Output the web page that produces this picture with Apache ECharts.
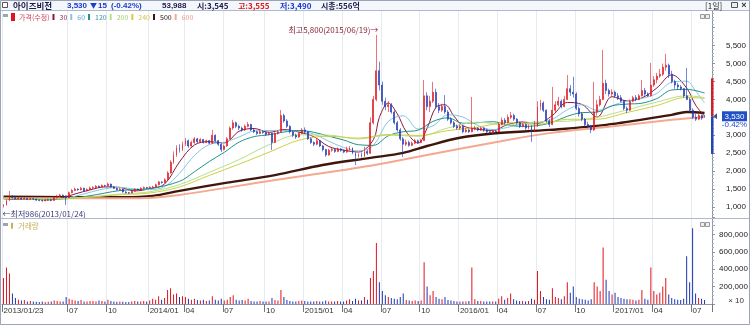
<!DOCTYPE html>
<html><head><meta charset="utf-8">
<script src="https://cdn.jsdelivr.net/npm/echarts/dist/echarts.min.js"></script>
<style>html,body{margin:0;padding:0;background:#fff}#c{width:750px;height:325px}</style>
</head><body><div id="c"></div>
<script>
// ---- data (weekly) ----
const START_DATE = [2013, 0, 23];
const PAD_WEEKS = 2;
// [open, close, low, high]
const candles = [
[1020,1050,986,1080],[1050,1180,1040,1200],[1180,1300,1170,1446],[1300,1260,1240,1330],[1260,1230,1210,1280],[1230,1250,1220,1290],[1250,1220,1200,1260],[1220,1240,1210,1270],[1240,1210,1190,1250],[1210,1230,1200,1260],
[1230,1220,1190,1250],[1220,1190,1170,1230],[1190,1180,1160,1210],[1180,1170,1150,1200],[1170,1190,1160,1220],[1190,1200,1170,1230],[1200,1180,1160,1220],[1180,1260,1170,1290],[1260,1300,1240,1340],[1300,1330,1280,1370],
[1330,1310,1280,1350],[1310,1260,1056,1320],[1260,1400,1250,1430],[1400,1460,1380,1500],[1460,1500,1440,1540],[1500,1480,1450,1520],[1480,1520,1460,1560],[1520,1450,1430,1540],[1450,1490,1440,1520],[1490,1530,1470,1570],
[1530,1540,1500,1580],[1540,1580,1520,1610],[1580,1560,1530,1600],[1560,1600,1540,1630],[1600,1590,1560,1620],[1590,1640,1570,1680],[1640,1560,1540,1650],[1560,1520,1500,1580],[1520,1480,1460,1540],[1480,1500,1460,1530],
[1500,1420,1400,1510],[1420,1400,1380,1440],[1400,1390,1370,1420],[1390,1440,1380,1460],[1440,1500,1430,1520],[1500,1480,1460,1510],[1480,1520,1470,1550],[1520,1540,1500,1570],[1540,1530,1500,1560],[1530,1550,1510,1580],
[1550,1560,1530,1590],[1560,1620,1550,1650],[1620,1700,1600,1730],[1700,1680,1650,1720],[1680,1760,1670,1800],[1760,1950,1750,2000],[1950,2250,1930,2300],[2250,2450,2200,2550],[2450,2650,2400,2720],[2650,2600,2520,2750],
[2600,2750,2560,2820],[2750,2850,2700,2925],[2850,2700,2650,2880],[2700,2800,2680,2850],[2800,2900,2760,2950],[2900,2820,2780,2930],[2820,2880,2790,2920],[2880,2800,2770,2900],[2800,2850,2780,2880],[2850,2780,2750,2870],
[2780,3000,2760,3150],[3000,2850,2820,3020],[2850,2750,2700,2870],[2750,2600,2535,2780],[2600,2700,2580,2740],[2700,2900,2680,2950],[2900,3200,2880,3250],[3200,3350,3150,3430],[3350,3250,3200,3380],[3250,3200,3150,3290],
[3200,3150,3100,3240],[3150,3250,3120,3300],[3250,3300,3220,3370],[3300,3150,3120,3320],[3150,3100,3060,3180],[3100,3050,3010,3130],[3050,3100,3030,3150],[3100,3080,3040,3140],[3080,3020,2980,3110],[3020,3050,3000,3100],
[3050,2800,2590,3070],[2800,3050,2780,3080],[3050,3100,3020,3150],[3100,3550,3080,3706],[3550,3400,3350,3600],[3400,3250,3200,3450],[3250,3100,3050,3280],[3100,3000,2950,3130],[3000,2950,2900,3050],[2950,3050,2930,3100],
[3050,3150,3030,3200],[3150,3100,3060,3220],[3100,2900,2870,3120],[2900,2800,2760,2940],[2800,2750,2700,2830],[2750,2850,2720,2900],[2850,2700,2670,2870],[2700,2600,2550,2730],[2600,2450,2400,2620],[2450,2580,2430,2620],
[2580,2600,2540,2650],[2600,2550,2510,2630],[2550,2620,2530,2660],[2620,2580,2540,2640],[2580,2530,2500,2600],[2530,2600,2510,2680],[2600,2650,2570,2700],[2650,2500,2470,2660],[2500,2420,2170,2520],[2420,2450,2380,2500],
[2450,2420,2380,2520],[2420,2550,2400,2680],[2550,2500,2450,2600],[2500,3350,2480,3500],[3350,4000,3300,4100],[4000,4800,3950,5800],[4800,4400,4250,5050],[4400,3950,3850,4500],[3950,3800,3700,4050],[3800,3850,3650,3950],
[3850,3650,3600,3900],[3650,3350,3300,3700],[3350,3150,3100,3400],[3150,2900,2850,3200],[2900,2750,2395,2950],[2750,2800,2700,2880],[2800,2720,2680,2850],[2720,2780,2700,2830],[2780,2850,2750,2900],[2850,2800,2760,2880],
[2800,2850,2780,2900],[2850,4100,2840,4540],[4100,3800,3700,4200],[3800,3950,3650,4100],[3950,4200,3900,4490],[4200,3800,3750,4300],[3800,3700,3620,3900],[3700,3800,3650,3880],[3800,3650,3600,4120],[3650,3450,3400,3700],
[3450,3350,3300,3500],[3350,3250,3200,3400],[3250,3200,3150,3300],[3200,3250,3150,3300],[3250,3100,3060,3280],[3100,3150,3070,3200],[3150,3100,3060,3190],[3100,3180,3080,4070],[3180,3200,3140,3260],[3200,3150,3110,3230],
[3150,3200,3120,3240],[3200,3150,3100,3220],[3150,3100,3060,3180],[3100,3080,3040,3140],[3080,3120,3050,3160],[3120,3100,3060,3150],[3100,3300,3090,3360],[3300,3420,3280,3500],[3420,3350,3300,3480],[3350,3500,3330,3580],
[3500,3550,3450,3650],[3550,3450,3400,3600],[3450,3350,3300,3480],[3350,3250,3200,3380],[3250,3300,3220,3350],[3300,3200,3150,3330],[3200,3250,3160,3300],[3250,3100,2815,3280],[3100,3250,3080,3400],[3250,3800,3230,3950],
[3800,3900,3700,3990],[3900,3700,3650,3950],[3700,3400,3350,3720],[3400,3300,3230,3450],[3300,3700,3280,4350],[3700,3850,3650,3950],[3850,3950,3800,4070],[3950,3800,3750,4000],[3800,4000,3780,4100],[4000,4300,3980,4680],
[4300,4200,4100,4400],[4200,4150,4050,4630],[4150,3750,3700,4200],[3750,3600,3520,3800],[3600,3450,3400,3650],[3450,3300,3250,3480],[3300,3250,3200,3380],[3250,3150,3060,3280],[3150,3650,3120,4490],[3650,3850,3550,3990],
[3850,4000,3800,4100],[4000,4450,3980,5380],[4450,4250,4150,4550],[4250,4150,4080,4300],[4150,4200,4100,4280],[4200,4100,4050,4250],[4100,4050,3980,4180],[4050,3950,3920,4120],[3950,3750,3700,3980],[3750,3700,3620,3800],
[3700,3950,3680,4000],[3950,4050,3920,4100],[4050,4000,3950,4120],[4000,4100,3980,4150],[4100,4250,4080,4540],[4250,4150,4100,4320],[4150,4100,4070,4200],[4100,4400,4080,5020],[4400,4550,4350,4650],[4550,4650,4450,4740],
[4650,4700,4600,4850],[4700,4900,4650,5000],[4900,4950,4800,5270],[4950,4700,4600,5000],[4700,4500,4450,4800],[4500,4400,4300,4550],[4400,4350,4280,4460],[4350,4300,4250,4400],[4300,4100,4050,4320],[4100,4000,3980,4880],
[4000,3700,3650,4050],[3700,3500,3450,3750],[3500,3450,3400,3600],[3450,3550,3420,3600],[3550,3480,3430,3580],[3545,3530,3490,3555]
];
// volume (axis units, x10)
const volumes = [
300000,420000,350000,120000,70000,50000,40000,45000,30000,35000,
30000,25000,22000,30000,22000,25000,30000,40000,35000,30000,
30000,80000,60000,50000,40000,35000,45000,30000,28000,35000,
35000,30000,40000,35000,28000,50000,35000,28000,25000,28000,
25000,22000,22000,28000,35000,28000,30000,35000,28000,40000,
60000,50000,90000,50000,70000,160000,180000,110000,120000,80000,
90000,80000,60000,50000,60000,45000,40000,50000,35000,40000,
90000,50000,40000,60000,40000,50000,80000,100000,50000,40000,
45000,40000,60000,35000,30000,28000,35000,30000,28000,28000,
70000,45000,40000,160000,80000,45000,35000,30000,28000,35000,
40000,35000,30000,28000,28000,35000,28000,30000,40000,30000,
30000,28000,35000,30000,28000,40000,55000,35000,60000,40000,
40000,80000,50000,300000,380000,700000,250000,150000,100000,80000,
70000,60000,55000,80000,120000,45000,40000,35000,40000,35000,
40000,480000,200000,100000,150000,80000,60000,55000,80000,45000,
40000,35000,30000,28000,30000,28000,35000,420000,55000,35000,
35000,30000,28000,28000,30000,28000,60000,90000,50000,70000,
120000,55000,40000,35000,35000,30000,35000,60000,50000,380000,
150000,80000,55000,50000,180000,80000,70000,55000,90000,250000,
130000,200000,80000,60000,55000,50000,40000,55000,250000,200000,
150000,650000,280000,150000,110000,130000,80000,70000,60000,55000,
55000,50000,40000,50000,160000,60000,50000,420000,150000,110000,
130000,200000,300000,110000,70000,55000,50000,45000,60000,550000,
250000,870000,120000,70000,60000,45000
];
// moving averages [weekIndex, value]
const ma30 = [[0,1230],[4,1215],[9,1226],[14,1197],[19,1243],[24,1363],[29,1476],[34,1560],[39,1546],[44,1449],[49,1508],[54,1640],[59,2258],[64,2729],[69,2822],[74,2787],[79,3112],[84,3189],[89,3082],[94,3159],[99,3089],[104,2962],[109,2688],[114,2586],[119,2533],[124,2878],[126,3500],[129,3900],[132,3600],[135,3100],[139,2783],[142,3197],[145,3783],[148,3850],[151,3533],[154,3267],[159,3168],[164,3135],[169,3299],[174,3372],[179,3331],[184,3552],[189,3915],[194,3856],[199,3506],[204,4079],[209,3961],[214,4043],[219,4319],[224,4686],[229,4319],[232,3842],[235,3535]];
const ma60 = [[0,1240],[4,1231],[9,1223],[14,1209],[19,1223],[24,1298],[29,1409],[34,1509],[39,1547],[44,1500],[49,1488],[54,1567],[59,1939],[64,2436],[69,2741],[74,2803],[79,2954],[84,3118],[89,3134],[94,3132],[99,3114],[104,3034],[109,2835],[114,2662],[119,2564],[124,2716],[129,3389],[134,3544],[139,3173],[144,3264],[149,3573],[154,3509],[159,3274],[164,3158],[169,3219],[174,3319],[179,3347],[184,3447],[189,3712],[194,3854],[199,3693],[204,3826],[209,3957],[214,4027],[219,4168],[224,4478],[229,4508],[232,4237],[235,3905]];
const ma120 = [[0,1245],[4,1240],[9,1236],[19,1225],[29,1314],[39,1458],[49,1513],[59,1715],[64,1982],[69,2269],[74,2524],[79,2810],[84,2962],[89,3015],[94,3090],[99,3134],[104,3084],[109,2974],[114,2868],[119,2736],[124,2719],[129,2986],[134,3098],[139,3144],[144,3388],[149,3487],[154,3335],[159,3350],[164,3379],[169,3290],[174,3247],[179,3269],[184,3362],[189,3531],[194,3632],[199,3647],[204,3821],[209,3870],[214,3895],[219,4023],[224,4264],[229,4281],[235,4180]];
const ma200 = [[0,1240],[19,1235],[29,1282],[39,1359],[49,1424],[59,1624],[69,1967],[79,2323],[89,2735],[99,3011],[109,3005],[119,2897],[129,3006],[139,2969],[149,3204],[159,3365],[169,3283],[179,3376],[189,3391],[199,3502],[209,3709],[219,3926],[229,4101],[235,4050]];
const ma240 = [[0,1245],[19,1237],[29,1277],[39,1341],[49,1390],[59,1558],[69,1882],[79,2195],[89,2527],[99,2861],[109,2973],[119,2919],[129,3023],[139,2993],[149,3129],[159,3228],[169,3354],[179,3302],[189,3446],[199,3449],[209,3634],[219,3829],[229,4057],[235,4030]];
const ma500 = [[0,1290],[20,1275],[40,1275],[50,1310],[59,1450],[75,1680],[91,1890],[107,2170],[123,2370],[134,2510],[142,2700],[153,2930],[164,3050],[183,3150],[202,3290],[224,3570],[229,3650],[235,3620]];
const ma600 = [[0,1245],[20,1240],[40,1240],[50,1260],[59,1335],[91,1750],[123,2150],[142,2450],[164,2790],[183,3060],[202,3230],[224,3430],[235,3510]];
const quarterLabels = ['2013/01/23','07','10','2014/01','04','07','10','2015/01','04','07','10','2016/01','04','07','10','2017/01','04','07'];
const highPoint = {week:125, value:5800, text:'최고5,800(2015/06/19)→'};
const lowPoint = {week:0, value:986, text:'←최저986(2013/01/24)'};
const lastPrice = 3530, lastChange = '-0.42%', rangeHigh = 4590, rangeLow = 2480;

// ---- build ----
const DAY = 864e5;
const t0 = Date.UTC(START_DATE[0], START_DATE[1], START_DATE[2]);
const nCat = candles.length + PAD_WEEKS;
const p2 = n => String(n).padStart(2,'0');
const categories = [];
for (let i = 0; i < nCat; i++) { const d = new Date(t0 + i*7*DAY); categories.push(d.getUTCFullYear()+'/'+p2(d.getUTCMonth()+1)+'/'+p2(d.getUTCDate())); }
const endMonth = i => new Date(t0 + (i*7+6)*DAY).getUTCMonth();
const labelIdx = [0];
for (let i = 1; i < nCat; i++) { const m = endMonth(i); if (m !== endMonth(i-1) && m % 3 === 0 && i >= 16) labelIdx.push(i); }
const labelMap = new Map(labelIdx.map((idx,k) => [idx, quarterLabels[k]]));
const showIdx = i => labelMap.has(i);
const fmtNum = v => String(v).replace(/\B(?=(\d{3})+(?!\d))/g, ',');

const RED = '#e0141e', BLUE = '#1c36b4';
const KR = "'Noto Sans CJK KR', sans-serif";
const maDefs = [
  ['30', ma30, '#8a1a3c', 1, '#8a2a4a'],
  ['60', ma60, '#86c6e4', 1, '#5aa6d6'],
  ['120', ma120, '#23908e', 1, '#3a8ea0'],
  ['200', ma200, '#b6e08a', 1, '#9fd070'],
  ['240', ma240, '#cfd040', 1, '#d2c45a'],
  ['500', ma500, '#3e160c', 2.4, '#2a1208'],
  ['600', ma600, '#f4a890', 2, '#ee9a86']
];

const chart = echarts.init(document.getElementById('c'));
const gridR = 38;
const option = {
  animation: false,
  backgroundColor: '#ffffff',
  grid: [
    {left: 2, right: gridR, top: 9.8, height: 215.1, outerBoundsMode: 'none'},
    {left: 2, right: gridR, top: 217, height: 87, outerBoundsMode: 'none'}
  ],
  legend: [
    {left: 11, top: 13, padding: 0, itemWidth: 2, itemHeight: 6, itemGap: 3, selectedMode: false,
     textStyle: {fontSize: 7, fontFamily: KR},
     data: [{name: '가격(수정)', icon: 'rect', itemStyle: {color: RED}, textStyle: {color: '#d2425c'}}]
       .concat(maDefs.map(m => ({name: m[0], icon: 'rect', itemStyle: {color: m[2]}, textStyle: {color: m[4]}})))},
    {left: 11, top: 222, padding: 0, itemWidth: 2, itemHeight: 6, selectedMode: false,
     textStyle: {fontSize: 7.5, fontFamily: KR},
     data: [{name: '거래량', icon: 'rect', itemStyle: {color: '#c9b25a'}, textStyle: {color: '#c9b25a'}}]}
  ],
  xAxis: [
    {type: 'category', gridIndex: 0, data: categories, boundaryGap: true,
     axisLine: {show: false}, axisTick: {show: false}, axisLabel: {show: false},
     splitLine: {show: true, interval: showIdx, lineStyle: {color: '#e6ebf2'}}},
    {type: 'category', gridIndex: 1, data: categories, boundaryGap: true,
     axisLine: {show: true, lineStyle: {color: '#8d96a6'}},
     axisTick: {show: true, interval: showIdx, length: 8, lineStyle: {color: '#777'}},
     axisLabel: {show: true, interval: showIdx, formatter: (v, i) => labelMap.get(i) || '', align: 'left',
                 margin: 3, fontSize: 8, color: '#333', fontFamily: 'Liberation Sans'},
     splitLine: {show: true, interval: showIdx, lineStyle: {color: '#e6ebf2'}}}
  ],
  yAxis: [
    {type: 'value', gridIndex: 0, position: 'right', min: 500, max: 6500, interval: 500,
     axisLine: {show: true, lineStyle: {color: '#8d96a6'}},
     axisTick: {show: true, length: 3, lineStyle: {color: '#8d96a6'}},
     minorTick: {show: true, splitNumber: 5, length: 2, lineStyle: {color: '#aab2c0'}},
     splitLine: {show: false},
     axisLabel: {margin: 14, fontSize: 8, color: '#222', fontFamily: 'Liberation Sans',
                 formatter: v => (v < 1000 || v > 5500) ? '' : fmtNum(v)}},
    {type: 'value', gridIndex: 1, position: 'right', min: 0, max: 1000000, interval: 200000,
     axisLine: {show: true, lineStyle: {color: '#8d96a6'}},
     axisTick: {show: true, length: 3, lineStyle: {color: '#8d96a6'}},
     minorTick: {show: true, splitNumber: 4, length: 2, lineStyle: {color: '#aab2c0'}},
     splitLine: {show: false},
     axisLabel: {margin: 7, fontSize: 8, color: '#222', fontFamily: 'Liberation Sans',
                 formatter: v => (v === 0 || v >= 1000000) ? '' : fmtNum(v)}}
  ],
  series: [
    {name: '가격(수정)', type: 'candlestick', xAxisIndex: 0, yAxisIndex: 0, data: candles, z: 5,
     barWidth: 1.4,
     itemStyle: {color: RED, color0: BLUE, borderColor: RED, borderColor0: BLUE, borderWidth: 0.6},
     markPoint: {symbol: 'circle', symbolSize: 0.1, silent: true,
       data: [
         {coord: [highPoint.week, highPoint.value], itemStyle: {color: 'transparent'},
          label: {show: true, position: 'left', distance: 0, offset: [2, -5], formatter: highPoint.text,
                  color: '#8b2336', fontSize: 8, fontFamily: KR}},
         {coord: [lowPoint.week, lowPoint.value], itemStyle: {color: 'transparent'},
          label: {show: true, position: 'right', distance: 0, offset: [-1, 6], formatter: lowPoint.text,
                  color: '#3c3c78', fontSize: 8, fontFamily: KR}}
       ]}}
  ].concat(maDefs.map((m, k) => ({
    name: m[0], type: 'line', xAxisIndex: 0, yAxisIndex: 0, data: m[1], smooth: 0.35,
    showSymbol: false, z: k >= 5 ? 3 : 4, lineStyle: {color: m[2], width: m[3]}, itemStyle: {color: m[2]}
  }))).concat([
    {name: '거래량', type: 'bar', xAxisIndex: 1, yAxisIndex: 1, barWidth: 1,
     data: volumes.map((v, i) => ({value: v, itemStyle: {color: candles[i][1] >= candles[i][0] ? RED : BLUE}}))}
  ])
};
chart.setOption(option);

// ---- frame, header and price marker ----
const W = 750, xR = W - gridR;
const yHi = chart.convertToPixel({yAxisIndex: 0}, rangeHigh);
const yLast = chart.convertToPixel({yAxisIndex: 0}, lastPrice);
const yLo = chart.convertToPixel({yAxisIndex: 0}, rangeLow);
const txt = (x, y, text, fill, size, weight, family, align) => ({type: 'text', x, y, silent: true, z: 50,
  style: {text, fill, fontSize: size, fontWeight: weight || 'normal', fontFamily: family || KR,
          align: align || 'left', verticalAlign: 'middle'}});
const LS = 'Liberation Sans';
const graphics = [
  {type: 'rect', shape: {x: 0, y: 0, width: W, height: 10}, style: {fill: '#f3f6fb'}, z: 40, silent: true},
  {type: 'line', shape: {x1: 0, y1: 10.5, x2: W, y2: 10.5}, style: {stroke: '#aeb9cc'}, z: 41, silent: true},
  {type: 'rect', shape: {x: 2.5, y: 2.5, width: 5, height: 5}, style: {fill: '#fff', stroke: '#555'}, z: 41, silent: true},
  txt(13, 5.5, '아이즈비전', '#1c1c4c', 8.5, 'bold'),
  txt(67, 5.5, '3,530', '#1a3ad0', 8, 'bold', LS),
  txt(90, 5.5, '▼', '#1a3ad0', 7, 'bold', KR),
  txt(98, 5.5, '15', '#1a3ad0', 8, 'bold', LS),
  txt(111, 5.5, '(-0.42%)', '#1a3ad0', 8, 'bold', LS),
  txt(162, 5.5, '53,988', '#1c1c4c', 8, 'bold', LS),
  txt(197, 5.5, '시:3,545', '#1c1c4c', 8, 'bold'),
  txt(238, 5.5, '고:3,555', '#e01818', 8, 'bold'),
  txt(280, 5.5, '저:3,490', '#1a3ad0', 8, 'bold'),
  txt(321, 5.5, '시총:556억', '#1c1c4c', 8, 'bold'),
  txt(705, 5.5, '[1일]', '#222', 8, 'normal'),
  {type: 'rect', shape: {x: 731.5, y: 2.5, width: 6, height: 5}, style: {fill: '#e8ecf4', stroke: '#555'}, z: 41, silent: true},
  txt(744, 5.5, '×', '#333', 9, 'bold', LS, 'center'),
  {type: 'rect', shape: {x: 3, y: 14, width: 5, height: 3}, style: {fill: '#9aa6b8'}, z: 41, silent: true},
  {type: 'rect', shape: {x: 3, y: 223, width: 5, height: 3}, style: {fill: '#9aa6b8'}, z: 41, silent: true},
  {type: 'rect', shape: {x: 700.5, y: 14.5, width: 4, height: 4}, style: {fill: '#eee', stroke: '#999'}, z: 41, silent: true},
  {type: 'rect', shape: {x: 705.5, y: 14.5, width: 4, height: 4}, style: {fill: '#eee', stroke: '#999'}, z: 41, silent: true},
  {type: 'rect', shape: {x: 700.5, y: 222.5, width: 4, height: 4}, style: {fill: '#eee', stroke: '#999'}, z: 41, silent: true},
  {type: 'rect', shape: {x: 705.5, y: 222.5, width: 4, height: 4}, style: {fill: '#eee', stroke: '#999'}, z: 41, silent: true},
  {type: 'line', shape: {x1: 0, y1: 218.5, x2: W, y2: 218.5}, style: {stroke: '#aeb9cc'}, z: 41, silent: true},
  {type: 'rect', shape: {x: 0.5, y: 0.5, width: W - 1, height: 324}, style: {fill: null, stroke: '#9aa4b4'}, z: 42, silent: true},
  txt(744, 301, '× 10', '#333', 8, 'normal', LS, 'right'),
  {type: 'rect', shape: {x: xR - 1, y: yHi, width: 2.5, height: yLast - yHi}, style: {fill: '#cf1f2a'}, z: 45, silent: true},
  {type: 'rect', shape: {x: xR - 1, y: yLast, width: 2.5, height: yLo - yLast}, style: {fill: '#2344b0'}, z: 45, silent: true},
  {type: 'polygon', shape: {points: [[xR + 1.5, yLast], [xR + 5, yLast - 3], [xR + 5, yLast + 3]]}, style: {fill: '#30509c'}, z: 45, silent: true},
  {type: 'rect', shape: {x: 722, y: yLast - 5, width: 25, height: 10}, style: {fill: '#1f50c8'}, z: 45, silent: true},
  txt(734.5, yLast + 0.5, fmtNum(lastPrice), '#ffffff', 8, 'normal', LS, 'center'),
  txt(734.5, yLast + 9, lastChange, '#2a48c8', 8, 'normal', LS, 'center')
];
chart.setOption({graphic: graphics});
</script></body></html>
